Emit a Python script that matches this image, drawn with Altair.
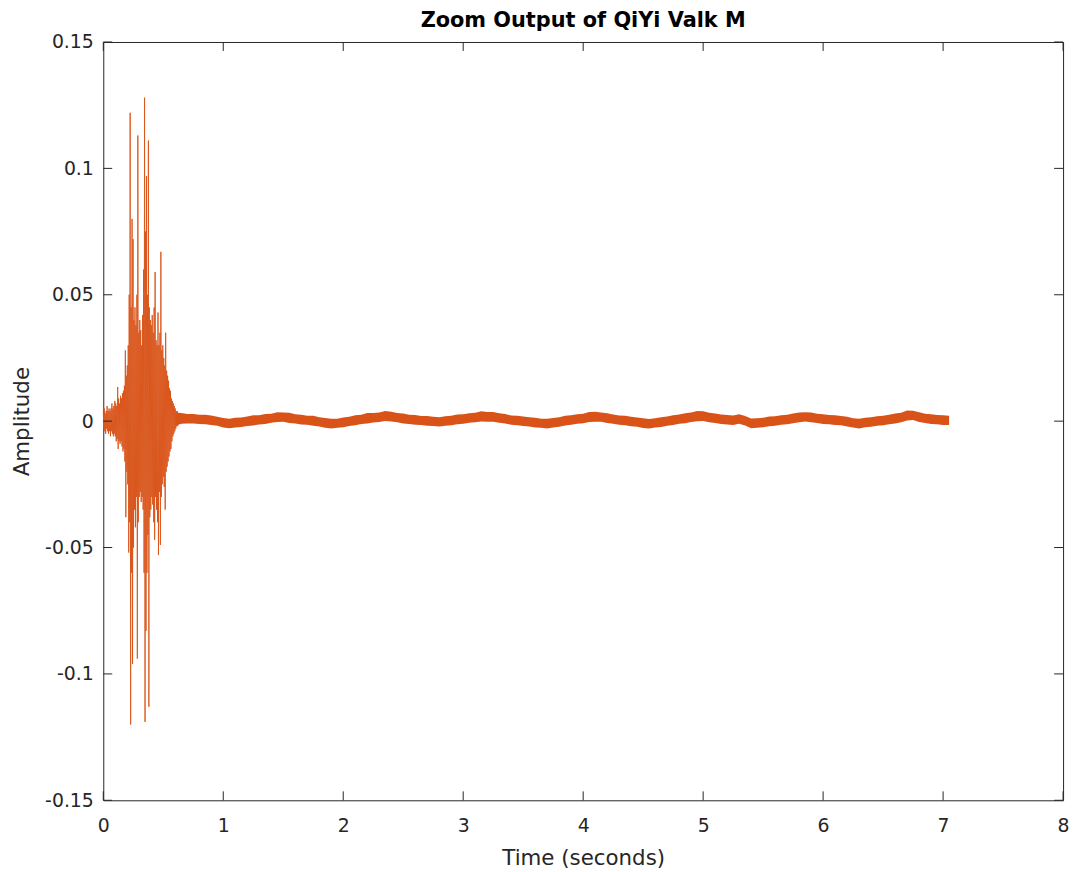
import altair as alt
import pandas as pd

# ---- data ----
# burst segment: samples every 0.004 s starting at 0 s (alternating peaks)
burst_step = 0.004
burst_v = [
    0.004, -0.003, 0.005, -0.004, 0.003, -0.005, 0.004, -0.003, 0.006, -0.004,
    0.004, -0.005, 0.005, -0.004, 0.004, -0.006, 0.005, -0.004, 0.007, -0.005,
    0.005, -0.006, 0.006, -0.005, 0.008, -0.006, 0.007, -0.008, 0.006, -0.007,
    0.0135, -0.011, 0.009, -0.008, 0.007, -0.009, 0.010, -0.008, 0.009, -0.010,
    0.011, -0.012, 0.012, -0.011, 0.014, -0.016, 0.028, -0.038, 0.018, -0.020,
    0.022, -0.025, 0.030, -0.052, 0.050, -0.040, 0.122, -0.120, 0.045, -0.060,
    0.080, -0.096, 0.072, -0.050, 0.040, -0.035, 0.045, -0.042, 0.038, -0.030,
    0.050, -0.094, 0.113, -0.040, 0.035, -0.030, 0.040, -0.028, 0.036, -0.032,
    0.030, -0.030, 0.042, -0.035, 0.060, -0.060, 0.128, -0.119, 0.075, -0.083,
    0.097, -0.060, 0.050, -0.045, 0.111, -0.113, 0.045, -0.038, 0.040, -0.035,
    0.038, -0.030, 0.042, -0.033, 0.035, -0.040, 0.045, -0.047, 0.059, -0.030,
    0.032, -0.035, 0.030, -0.040, 0.043, -0.053, 0.030, -0.028, 0.035, -0.049,
    0.067, -0.030, 0.028, -0.025, 0.030, -0.022, 0.025, -0.026, 0.022, -0.035,
    0.035, -0.020, 0.020, -0.018, 0.018, -0.016, 0.016, -0.014, 0.013, -0.012,
    0.012, -0.011, 0.009, -0.008, 0.008, -0.006, 0.007, -0.005, 0.006, -0.004,
    0.005, -0.003, 0.004, -0.002, 0.004, -0.002, 0.003, -0.001, 0.003, -0.001,
    0.003,
]

# tail: envelope of the noise band every 0.05 s from 0.60 s to 7.05 s
tail_start = 0.60
tail_step = 0.05
tail_hi = [
    0.0034, 0.0032, 0.0028, 0.0028, 0.0025, 0.0025, 0.0022, 0.0017, 0.0012, 0.0009,
    0.0013, 0.0014, 0.0018, 0.0023, 0.0023, 0.0028, 0.0029, 0.0035, 0.0034, 0.0033,
    0.0027, 0.0025, 0.0021, 0.0021, 0.0015, 0.0012, 0.0009, 0.0009, 0.0014, 0.0017,
    0.0023, 0.0025, 0.0032, 0.0032, 0.0034, 0.0040, 0.0037, 0.0032, 0.0030, 0.0025,
    0.0024, 0.0020, 0.0020, 0.0017, 0.0015, 0.0019, 0.0021, 0.0026, 0.0027, 0.0031,
    0.0033, 0.0039, 0.0036, 0.0036, 0.0031, 0.0028, 0.0022, 0.0021, 0.0018, 0.0015,
    0.0013, 0.0009, 0.0009, 0.0012, 0.0015, 0.0021, 0.0023, 0.0027, 0.0029, 0.0036,
    0.0037, 0.0034, 0.0031, 0.0026, 0.0022, 0.0021, 0.0017, 0.0014, 0.0011, 0.0008,
    0.0011, 0.0015, 0.0018, 0.0023, 0.0026, 0.0031, 0.0034, 0.0040, 0.0039, 0.0033,
    0.0030, 0.0026, 0.0024, 0.0022, 0.0027, 0.0020, 0.0010, 0.0011, 0.0013, 0.0018,
    0.0019, 0.0023, 0.0025, 0.0030, 0.0034, 0.0035, 0.0034, 0.0029, 0.0027, 0.0024,
    0.0023, 0.0020, 0.0017, 0.0011, 0.0009, 0.0013, 0.0015, 0.0019, 0.0021, 0.0025,
    0.0030, 0.0033, 0.0042, 0.0041, 0.0035, 0.0029, 0.0027, 0.0024, 0.0023, 0.0021,
]
tail_lo = [
    -0.0018, -0.0010, -0.0009, -0.0009, -0.0011, -0.0012, -0.0015, -0.0018, -0.0025, -0.0028,
    -0.0025, -0.0023, -0.0019, -0.0017, -0.0013, -0.0011, -0.0006, -0.0003, -0.0002, -0.0007,
    -0.0009, -0.0013, -0.0014, -0.0018, -0.0021, -0.0026, -0.0029, -0.0026, -0.0024, -0.0019,
    -0.0016, -0.0011, -0.0009, -0.0005, -0.0003, 0.0001, -0.0001, -0.0004, -0.0009, -0.0011,
    -0.0014, -0.0015, -0.0018, -0.0019, -0.0021, -0.0018, -0.0016, -0.0012, -0.0010, -0.0006,
    -0.0004, -0.0001, -0.0002, -0.0002, -0.0006, -0.0009, -0.0014, -0.0016, -0.0019, -0.0021,
    -0.0025, -0.0026, -0.0029, -0.0025, -0.0022, -0.0017, -0.0014, -0.0010, -0.0008, -0.0003,
    -0.0002, -0.0002, -0.0007, -0.0010, -0.0014, -0.0016, -0.0020, -0.0022, -0.0027, -0.0029,
    -0.0025, -0.0023, -0.0018, -0.0015, -0.0010, -0.0008, -0.0003, 0.0000, 0.0001, -0.0004,
    -0.0007, -0.0011, -0.0013, -0.0015, -0.0010, -0.0017, -0.0028, -0.0026, -0.0024, -0.0020,
    -0.0018, -0.0014, -0.0012, -0.0008, -0.0004, -0.0001, -0.0004, -0.0007, -0.0011, -0.0012,
    -0.0015, -0.0016, -0.0021, -0.0025, -0.0029, -0.0024, -0.0022, -0.0018, -0.0016, -0.0012,
    -0.0009, -0.0004, 0.0003, 0.0005, -0.0003, -0.0007, -0.0011, -0.0012, -0.0015, -0.0015,
]

x_ticks = [0, 1, 2, 3, 4, 5, 6, 7, 8]
y_ticks = [-0.15, -0.1, -0.05, 0, 0.05, 0.1, 0.15]

title_text = "Zoom Output of QiYi Valk M"
x_title = "Time (seconds)"
y_title = "Amplitude"

# ---- tables ----
burst_df = pd.DataFrame({"t": [i * burst_step for i in range(len(burst_v))], "v": burst_v})
tail_df = pd.DataFrame({
    "t": [tail_start + i * tail_step for i in range(len(tail_hi))],
    "hi": tail_hi,
    "lo": tail_lo,
})
xt_df = pd.DataFrame({"t": x_ticks})
yt_df = pd.DataFrame({"v": y_ticks})

W, H = 967, 764
COLOR = "#D95319"
AX = "#262626"
FONT = "DejaVu Sans"
TL = 9

xscale = alt.Scale(domain=[0, 8], nice=False, zero=False)
yscale = alt.Scale(domain=[-0.15, 0.15], nice=False, zero=False)

xaxis = alt.Axis(values=x_ticks, ticks=False, domain=False, grid=False, format="d",
                 labelFont=FONT, labelFontSize=19, labelColor=AX, labelPadding=16,
                 title=x_title, titleFont=FONT, titleFontSize=21.5, titleFontWeight="normal",
                 titleColor=AX, titlePadding=13, labelFlush=False)
yaxis = alt.Axis(values=y_ticks, ticks=False, domain=False, grid=False,
                 labelFont=FONT, labelFontSize=19, labelColor=AX, labelPadding=10,
                 labelExpr="replace(format(datum.value, '.2~f'), '\u2212', '-')",
                 title=y_title, titleFont=FONT, titleFontSize=21.5, titleFontWeight="normal",
                 titleColor=AX, titlePadding=11, labelFlush=False)

tail = alt.Chart(tail_df).mark_area(color=COLOR, opacity=1).encode(
    x=alt.X("t:Q", scale=xscale, axis=xaxis),
    y=alt.Y("lo:Q", scale=yscale, axis=yaxis),
    y2="hi:Q",
)

burst = alt.Chart(burst_df).mark_line(color=COLOR, strokeWidth=0.9).encode(
    x=alt.X("t:Q", scale=xscale),
    y=alt.Y("v:Q", scale=yscale),
)

tick_b = alt.Chart(xt_df).mark_rule(color=AX, strokeWidth=1).encode(
    x=alt.X("t:Q", scale=xscale), y=alt.value(H), y2=alt.value(H - TL))
tick_t = alt.Chart(xt_df).mark_rule(color=AX, strokeWidth=1).encode(
    x=alt.X("t:Q", scale=xscale), y=alt.value(0), y2=alt.value(TL))
tick_l = alt.Chart(yt_df).mark_rule(color=AX, strokeWidth=1).encode(
    y=alt.Y("v:Q", scale=yscale), x=alt.value(0), x2=alt.value(TL))
tick_r = alt.Chart(yt_df).mark_rule(color=AX, strokeWidth=1).encode(
    y=alt.Y("v:Q", scale=yscale), x=alt.value(W), x2=alt.value(W - TL))

chart = alt.layer(tail, burst, tick_b, tick_t, tick_l, tick_r).properties(
    width=W, height=H,
    title=alt.TitleParams(title_text, font=FONT, fontSize=21, fontWeight="bold",
                          color="#000000", offset=2, anchor="middle"),
    autosize=alt.AutoSizeParams(type="none"),
    padding={"left": 96, "top": 31, "right": 9, "bottom": 69},
    background="white",
).configure_view(stroke=AX, strokeWidth=1)

chart.save("out.html", embed_options={"renderer": "svg", "actions": False})
